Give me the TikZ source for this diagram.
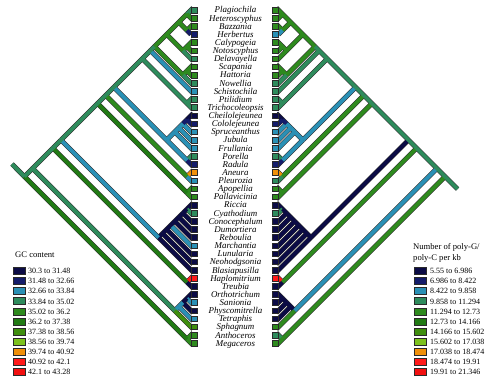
\documentclass[tikz,border=0pt]{standalone}
\usepackage{fontspec}
\setmainfont{Liberation Serif}
\definecolor{c1}{HTML}{0B0B45}
\definecolor{c2}{HTML}{141C6A}
\definecolor{c3}{HTML}{2A90B5}
\definecolor{c4}{HTML}{2E8B5C}
\definecolor{c5}{HTML}{2E8A1E}
\definecolor{c6}{HTML}{217A14}
\definecolor{c7}{HTML}{3F8E0E}
\definecolor{c8}{HTML}{7DC21E}
\definecolor{c9}{HTML}{F0900A}
\definecolor{c10}{HTML}{FF1A1A}
\definecolor{c11}{HTML}{F21010}
\definecolor{edgeline}{HTML}{2A2A2A}

\newcommand\mkn[3]{%
  \pgfmathsetmacro\nyy{10+((#2+#3)/2-1)*8.125}%
  \pgfmathsetmacro\nlx{191-(#3-#2)*4.0625}%
  \pgfmathsetmacro\nrx{278.5+(#3-#2)*4.0625}%
  \coordinate (L#1) at (\nlx,\nyy);%
  \coordinate (R#1) at (\nrx,\nyy);}

\newcommand\tip[4]{%
  \pgfmathsetmacro\tyy{10+(#1-1)*8.125}%
  \pgfmathsetmacro\tby{\tyy+3}%
  \node[sq,fill=#3] (Ls#1) at (194.3,\tyy) {};
  \node[sq,fill=#4] (Rs#1) at (275.4,\tyy) {};
  \node[lab] (nm#1) at (235.5,\tby) {#2};}

\newcommand\leg[4]{%
  \pgfmathsetmacro\lyy{271+#1*10.07}%
  \pgfmathsetmacro\lby{\lyy+2.8}%
  \node[lgbox,fill=#2] (lbl#1) at (19,\lyy) {};
  \node[lgtxt] (ltl#1) at (28,\lby) {#3};
  \node[lgbox,fill=#2] (lbr#1) at (420.5,\lyy) {};
  \node[lgtxt] (ltr#1) at (430,\lby) {#4};}

\newcommand\alledges{%
\T{J4}{t1}{c4}{c5}\T{J4}{t2}{c5}{c5}
\T{J5}{t3}{c5}{c5}\E{J5}{t4}{c2}{c3}
\E{J3}{J5}{c5}{c5}\E{J3}{J4}{c5}{c5}
\T{N1}{t5}{c5}{c5}\T{N1}{t6}{c5}{c5}
\E{N}{N1}{c5}{c5}\T{N}{t7}{c4}{c5}
\E{J2}{N}{c5}{c5}\E{J2}{J3}{c5}{c5}
\T{L1}{t8}{c5}{c5}\T{L1}{t9}{c5}{c5}
\E{L}{L1}{c5}{c5}\T{L}{t10}{c4}{c4}
\E{J1}{L}{c5}{c5}\E{J1}{J2}{c5}{c5}
\T{J}{t11}{c3}{c4}\E{J}{J1}{c4}{c4}
\T{K}{t12}{c4}{c4}\T{K}{t13}{c4}{c4}
\E{G}{K}{c4}{c4}\E{G}{J}{c4}{c4}
\T{PO4}{t14}{c1}{c1}\T{PO4}{t15}{c2}{c2}
\T{PO3}{t16}{c3}{c3}\E{PO3}{PO4}{c2}{c2}
\T{PO2}{t17}{c3}{c3}\E{PO2}{PO3}{c3}{c3}
\T{PO1}{t18}{c3}{c3}\E{PO1}{PO2}{c3}{c3}
\T{PRa}{t19}{c4}{c4}\T{PRa}{t20}{c2}{c2}
\E{PO}{PO1}{c3}{c3}\E{PO}{PRa}{c3}{c3}
\E{F}{PO}{c3}{c3}\E{F}{G}{c4}{c4}
\T{AP}{t21}{c9}{c9}\T{AP}{t22}{c3}{c4}
\E{E}{AP}{c5}{c5}\E{E}{F}{c4}{c4}
\T{P}{t23}{c5}{c5}\T{P}{t24}{c5}{c5}
\E{D}{P}{c6}{c5}\E{D}{E}{c4}{c4}
\T{MA8}{t25}{c1}{c1}\T{MA8}{t26}{c4}{c4}
\T{MA7}{t27}{c1}{c1}\E{MA7}{MA8}{c1}{c1}
\T{MA6}{t28}{c1}{c1}\E{MA6}{MA7}{c1}{c1}
\T{MA5}{t29}{c1}{c1}\E{MA5}{MA6}{c1}{c1}
\T{MA4}{t30}{c3}{c1}\E{MA4}{MA5}{c1}{c1}
\T{MA3}{t31}{c1}{c1}\E{MA3}{MA4}{c1}{c1}
\T{MA2}{t32}{c1}{c1}\E{MA2}{MA3}{c1}{c1}
\E{MA}{MA2}{c1}{c1}\T{MA}{t33}{c1}{c1}
\E{C}{MA}{c3}{c1}\E{C}{D}{c4}{c4}
\T{HT}{t34}{c10}{c10}\T{HT}{t35}{c1}{c1}
\E{B}{HT}{c6}{c5}\E{B}{C}{c4}{c4}
\T{M3}{t36}{c1}{c1}\T{M3}{t37}{c3}{c1}
\T{M2}{t38}{c1}{c1}\E{M2}{M3}{c1}{c1}
\T{M1}{t39}{c3}{c1}\E{M1}{M2}{c3}{c1}
\E{M}{M1}{c3}{c1}\T{M}{t40}{c7}{c5}
\E{A}{M}{c4}{c3}\E{A}{B}{c4}{c4}
\T{H}{t41}{c5}{c4}\T{H}{t42}{c5}{c5}
\E{R}{H}{c6}{c5}\E{R}{A}{c4}{c4}
\E{R}{stub}{c4}{c4}}

\begin{document}
\begin{tikzpicture}[x=1pt,y=-1pt,
  outl/.style={line width=4.8pt,draw=edgeline},
  fil/.style={line width=3.8pt},
  tipext/.style={shorten >=-3pt},
  sq/.style={rectangle,draw=edgeline,line width=0.5pt,minimum size=5.6pt,inner sep=0pt},
  lab/.style={anchor=base,inner sep=0pt,font=\fontsize{8.9}{9}\selectfont\itshape},
  lgbox/.style={rectangle,draw=edgeline,line width=0.5pt,minimum width=12pt,minimum height=7pt,inner sep=0pt},
  lgtxt/.style={anchor=base west,inner sep=0pt,font=\fontsize{8}{9}\selectfont},
  lgtitle/.style={anchor=base west,inner sep=0pt,font=\fontsize{8.6}{9}\selectfont}]
\useasboundingbox (0,0) rectangle (500,379);
\fill[white] (0,0) rectangle (500,379);
\foreach \i in {1,...,42}{\mkn{t\i}{\i}{\i}}
\mkn{R}{1}{42}\mkn{A}{1}{40}\mkn{H}{41}{42}
\mkn{B}{1}{35}\mkn{M}{36}{40}\mkn{M1}{36}{39}\mkn{M2}{36}{38}\mkn{M3}{36}{37}
\mkn{C}{1}{33}\mkn{HT}{34}{35}
\mkn{D}{1}{24}\mkn{MA}{25}{33}\mkn{MA2}{25}{32}\mkn{MA3}{25}{31}\mkn{MA4}{25}{30}
\mkn{MA5}{25}{29}\mkn{MA6}{25}{28}\mkn{MA7}{25}{27}\mkn{MA8}{25}{26}
\mkn{E}{1}{22}\mkn{P}{23}{24}
\mkn{F}{1}{20}\mkn{AP}{21}{22}
\mkn{G}{1}{13}\mkn{PO}{14}{20}\mkn{PO1}{14}{18}\mkn{PRa}{19}{20}
\mkn{PO2}{14}{17}\mkn{PO3}{14}{16}\mkn{PO4}{14}{15}
\mkn{J}{1}{11}\mkn{K}{12}{13}
\mkn{J1}{1}{10}\mkn{L}{8}{10}\mkn{L1}{8}{9}
\mkn{J2}{1}{7}\mkn{N}{5}{7}\mkn{N1}{5}{6}
\mkn{J3}{1}{4}\mkn{J4}{1}{2}\mkn{J5}{3}{4}
\coordinate (Lstub) at (12.0,164.1);
\coordinate (Rstub) at (457.5,189.0);
% pass 1: outlines
\def\E#1#2#3#4{\draw[outl] (L#1)--(L#2); \draw[outl] (R#1)--(R#2);}
\def\T#1#2#3#4{\draw[outl,tipext] (L#1)--(L#2); \draw[outl,tipext] (R#1)--(R#2);}
\alledges
% pass 2: fills
\def\E#1#2#3#4{\draw[fil,#3] (L#1)--(L#2); \draw[fil,#4] (R#1)--(R#2);}
\def\T#1#2#3#4{\draw[fil,tipext,#3] (L#1)--(L#2); \draw[fil,tipext,#4] (R#1)--(R#2);}
\alledges
% tips
\tip{1}{Plagiochila}{c4}{c5}
\tip{2}{Heteroscyphus}{c5}{c5}
\tip{3}{Bazzania}{c5}{c5}
\tip{4}{Herbertus}{c2}{c3}
\tip{5}{Calypogeia}{c5}{c5}
\tip{6}{Notoscyphus}{c5}{c5}
\tip{7}{Delavayella}{c4}{c5}
\tip{8}{Scapania}{c5}{c5}
\tip{9}{Hattoria}{c5}{c5}
\tip{10}{Nowellia}{c4}{c4}
\tip{11}{Schistochila}{c3}{c4}
\tip{12}{Ptilidium}{c4}{c4}
\tip{13}{Trichocoleopsis}{c4}{c4}
\tip{14}{Cheilolejeunea}{c1}{c1}
\tip{15}{Cololejeunea}{c2}{c2}
\tip{16}{Spruceanthus}{c3}{c3}
\tip{17}{Jubula}{c3}{c3}
\tip{18}{Frullania}{c3}{c3}
\tip{19}{Porella}{c4}{c4}
\tip{20}{Radula}{c2}{c2}
\tip{21}{Aneura}{c9}{c9}
\tip{22}{Pleurozia}{c3}{c4}
\tip{23}{Apopellia}{c5}{c5}
\tip{24}{Pallavicinia}{c5}{c5}
\tip{25}{Riccia}{c1}{c1}
\tip{26}{Cyathodium}{c4}{c4}
\tip{27}{Conocephalum}{c1}{c1}
\tip{28}{Dumortiera}{c1}{c1}
\tip{29}{Reboulia}{c1}{c1}
\tip{30}{Marchantia}{c3}{c1}
\tip{31}{Lunularia}{c1}{c1}
\tip{32}{Neohodgsonia}{c1}{c1}
\tip{33}{Blasiapusilla}{c1}{c1}
\tip{34}{Haplomitrium}{c10}{c10}
\tip{35}{Treubia}{c1}{c1}
\tip{36}{Orthotrichum}{c1}{c1}
\tip{37}{Sanionia}{c3}{c1}
\tip{38}{Physcomitrella}{c1}{c1}
\tip{39}{Tetraphis}{c3}{c1}
\tip{40}{Sphagnum}{c7}{c5}
\tip{41}{Anthoceros}{c5}{c4}
\tip{42}{Megaceros}{c5}{c5}
% legends
\node[lgtitle] (gct) at (15,258) {GC content};
\node[lgtitle] (pgt1) at (413,249) {Number of poly-G/};
\node[lgtitle] (pgt2) at (413,260.5) {poly-C per kb};
\leg{0}{c1}{30.3 to 31.48}{5.55 to 6.986}
\leg{1}{c2}{31.48 to 32.66}{6.986 to 8.422}
\leg{2}{c3}{32.66 to 33.84}{8.422 to 9.858}
\leg{3}{c4}{33.84 to 35.02}{9.858 to 11.294}
\leg{4}{c5}{35.02 to 36.2}{11.294 to 12.73}
\leg{5}{c6}{36.2 to 37.38}{12.73 to 14.166}
\leg{6}{c7}{37.38 to 38.56}{14.166 to 15.602}
\leg{7}{c8}{38.56 to 39.74}{15.602 to 17.038}
\leg{8}{c9}{39.74 to 40.92}{17.038 to 18.474}
\leg{9}{c10}{40.92 to 42.1}{18.474 to 19.91}
\leg{10}{c11}{42.1 to 43.28}{19.91 to 21.346}
\end{tikzpicture}
\end{document}
